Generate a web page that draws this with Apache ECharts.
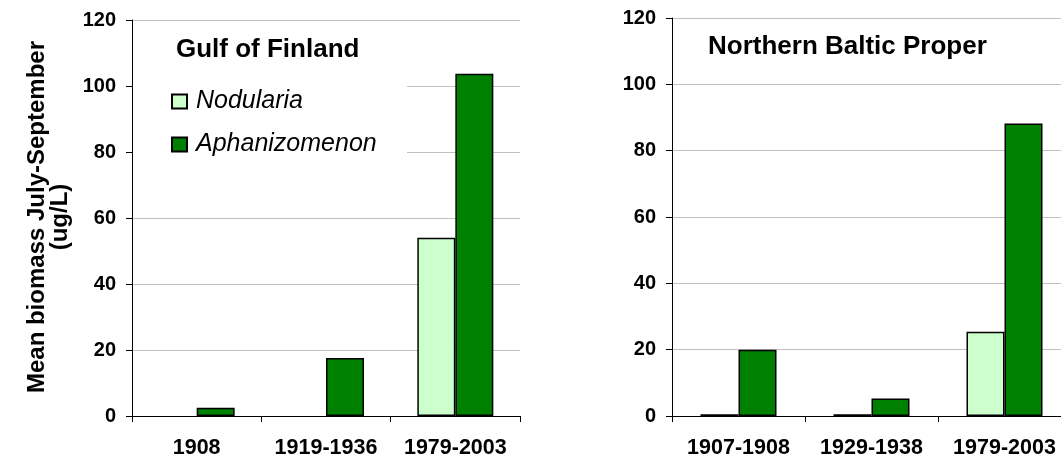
<!DOCTYPE html>
<html>
<head>
<meta charset="utf-8">
<script src="https://cdn.jsdelivr.net/npm/echarts@6/dist/echarts.min.js"></script>
<style>
html,body{margin:0;padding:0;background:#fff;}
#chart{width:1061px;height:463px;}
</style>
</head>
<body>
<div id="chart"></div>
<script>
const categoriesGulf = ['1908', '1919-1936', '1979-2003'];
const nodulariaGulf = [0, 0, 54];
const aphanizomenonGulf = [2.5, 17.6, 103.7];

const categoriesBaltic = ['1907-1908', '1929-1938', '1979-2003'];
const nodulariaBaltic = [0.5, 0.5, 25.4];
const aphanizomenonBaltic = [20, 5.3, 88.2];

const yMin = 0, yMax = 120, yInterval = 20;
const titleGulf = 'Gulf of Finland';
const titleBaltic = 'Northern Baltic Proper';
const yAxisTitle = 'Mean biomass July-September\n(ug/L)';

const FONT = '"Liberation Sans", Arial, sans-serif';
const LIGHT = '#CCFFCC', DARK = '#008000';

function xAxisDef(idx, cats) {
  return {
    type: 'category', gridIndex: idx, data: cats,
    axisLine: {lineStyle: {color: '#000', width: 1}},
    axisTick: {show: true, length: 6, lineStyle: {color: '#000'}},
    axisLabel: {interval: 0, color: '#000', fontFamily: FONT, fontWeight: 'bold', fontSize: 21.5, margin: 21},
    splitLine: {show: false}
  };
}
function yAxisDef(idx) {
  return {
    type: 'value', gridIndex: idx, min: yMin, max: yMax, interval: yInterval,
    axisLine: {show: true, lineStyle: {color: '#000', width: 1}},
    axisTick: {show: true, length: 6, lineStyle: {color: '#000'}},
    axisLabel: {color: '#000', fontFamily: FONT, fontWeight: 'bold', fontSize: 20, margin: 16},
    splitLine: {show: true, lineStyle: {color: '#c0c0c0', width: 1}}
  };
}
function barSeries(name, data, idx, color) {
  return {
    name: name, type: 'bar', xAxisIndex: idx, yAxisIndex: idx,
    data: data.map(v => (v === 0 ? null : v)),
    barWidth: 38, barGap: '0%',
    itemStyle: {color: color, borderColor: '#000', borderWidth: 1.5},
    emphasis: {disabled: true}, animation: false
  };
}

const chart = echarts.init(document.getElementById('chart'), null, {renderer: 'canvas'});
chart.setOption({
  backgroundColor: '#fff',
  animation: false,
  title: [
    {text: titleGulf, left: 171, top: 32, textStyle: {fontFamily: FONT, fontWeight: 'bold', fontSize: 26, color: '#000'}},
    {text: titleBaltic, left: 703, top: 29, textStyle: {fontFamily: FONT, fontWeight: 'bold', fontSize: 26, color: '#000'}}
  ],
  legend: {
    data: ['Nodularia', 'Aphanizomenon'],
    orient: 'vertical', left: 166, top: 84, itemGap: 18,
    itemWidth: 15, itemHeight: 14, icon: 'rect',
    textStyle: {fontFamily: FONT, fontStyle: 'italic', fontSize: 25, color: '#000', lineHeight: 25, padding: [0, 0, 0, 4]},
    selectedMode: false
  },
  graphic: [
    {type: 'rect', z: 1, silent: true, shape: {x: 133, y: 30, width: 274, height: 170}, style: {fill: '#fff'}},
    {type: 'text', z: 5, silent: true, x: 49, y: 217, rotation: Math.PI / 2,
     style: {text: yAxisTitle, fontFamily: FONT, fontWeight: 'bold', fontSize: 24, lineHeight: 23,
             fill: '#000', align: 'center', verticalAlign: 'middle'}}
  ],
  grid: [
    {left: 132, top: 20, width: 388, height: 396, containLabel: false, outerBoundsMode: 'none'},
    {left: 672, top: 18, width: 399, height: 398, containLabel: false, outerBoundsMode: 'none'}
  ],
  xAxis: [xAxisDef(0, categoriesGulf), xAxisDef(1, categoriesBaltic)],
  yAxis: [yAxisDef(0), yAxisDef(1)],
  series: [
    barSeries('Nodularia', nodulariaGulf, 0, LIGHT),
    barSeries('Aphanizomenon', aphanizomenonGulf, 0, DARK),
    barSeries('Nodularia', nodulariaBaltic, 1, LIGHT),
    barSeries('Aphanizomenon', aphanizomenonBaltic, 1, DARK)
  ]
});
</script>
</body>
</html>
